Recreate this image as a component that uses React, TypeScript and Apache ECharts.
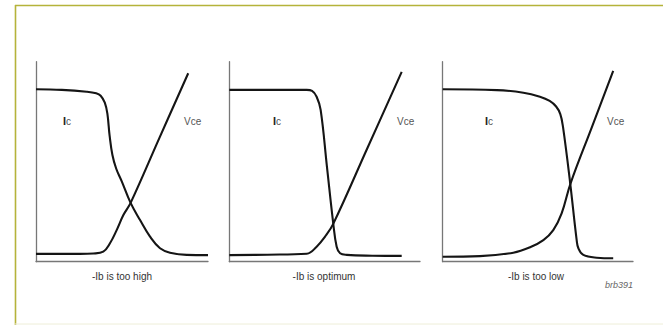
import React, { useEffect, useRef } from "react";
import * as echarts from "echarts";

// Panel captions
const captions = ["-Ib is too high", "-Ib is optimum", "-Ib is too low"];
const curveNames = ["Ic", "Vce"];
const figureId = "brb391";

// Panel 1: -Ib too high  ([x, y] in 0..100 units of each panel)
const icHigh: number[][] = [
  [0, 86.2], [15, 85.9], [29.5, 85], [35, 84.2], [37.6, 83], [40, 79.5], [41.5, 74],
  [42.8, 63], [44.4, 53.5], [46.6, 46.6], [49.8, 40.3], [55, 29.4], [60.5, 20.8],
  [66.3, 12.5], [72.1, 6.7], [77.9, 4.5], [87.6, 3.4], [100, 3.3],
];
const vceHigh: number[][] = [
  [0, 3.9], [25.6, 3.9], [33.3, 4.1], [39.1, 5], [43, 9.2], [46.9, 15.8], [50.8, 23.3],
  [55, 29.4], [71.7, 61.8], [88.5, 94.2],
];

// Panel 2: -Ib optimum
const icOpt: number[][] = [
  [0, 85.9], [20, 85.9], [40.6, 85.9], [43.4, 85.4], [45.8, 82.5], [47.9, 75.9],
  [51.2, 47.5], [54.5, 19.2], [56.3, 7.5], [58.1, 4.2], [61.6, 3.4], [75, 3], [90.4, 2.9],
];
const vceOpt: number[][] = [
  [0, 3.3], [20, 3.5], [40.6, 4], [45.8, 7.5], [50.2, 12.5], [54.5, 18.9], [72.5, 57],
  [90.4, 94.9],
];

// Panel 3: -Ib too low
const icLow: number[][] = [
  [0, 86.2], [28.4, 85.8], [42.4, 84.5], [51.1, 82.5], [56.2, 80.4], [59.6, 77.6],
  [61.8, 73.8], [63.2, 67.5], [67, 39.2], [70.4, 10.8], [71.3, 6.7], [73.9, 3.4],
  [80.9, 2], [89.6, 1.7],
];
const vceLow: number[][] = [
  [0, 2.5], [19.6, 2.8], [37.1, 4.5], [45.9, 7.2], [52.9, 10.8], [58.1, 15.8],
  [62.5, 24.2], [67.2, 39.2], [78.4, 67.3], [89.6, 95.4],
];

const panelData = [
  [icHigh, vceHigh],
  [icOpt, vceOpt],
  [icLow, vceLow],
];

const grids = [
  { left: 36, top: 61.7, width: 172, height: 200 },
  { left: 229.3, top: 61.7, width: 190.7, height: 200 },
  { left: 442.7, top: 61.7, width: 190.3, height: 200 },
];
const icLabelX = [63, 273, 485];
const vceLabelX = [184, 397, 607];
const captionX = [122, 324, 536];

export default function App() {
  const ref = useRef<HTMLDivElement>(null);
  useEffect(() => {
    if (!ref.current) return;
    const chart = echarts.init(ref.current, null, { renderer: "svg" });
    const axisLine = { show: true, lineStyle: { color: "#777", width: 1.3 } };
    const xAxis = grids.map((_, i) => ({
      type: "value", gridIndex: i, min: 0, max: 100,
      axisLine, axisTick: { show: false }, axisLabel: { show: false }, splitLine: { show: false },
    }));
    const yAxis = grids.map((_, i) => ({
      type: "value", gridIndex: i, min: 0, max: 100,
      axisLine, axisTick: { show: false }, axisLabel: { show: false }, splitLine: { show: false },
    }));
    const series: any[] = [];
    panelData.forEach((pair, i) => {
      pair.forEach((d, j) => {
        series.push({
          type: "line", name: curveNames[j], xAxisIndex: i, yAxisIndex: i, data: d,
          showSymbol: false, smooth: 0.4, silent: true,
          lineStyle: { color: "#151515", width: 2.1 },
        });
      });
    });
    const graphic: any[] = [
      { type: "line", shape: { x1: 15, y1: 5.5, x2: 663, y2: 5.5 }, style: { stroke: "#b5b33a", lineWidth: 1.6 } },
      { type: "line", shape: { x1: 15.5, y1: 5, x2: 15.5, y2: 325 }, style: { stroke: "#b5b33a", lineWidth: 1.6 } },
      { type: "line", shape: { x1: 15, y1: 324, x2: 663, y2: 324 }, style: { stroke: "#eeeed8", lineWidth: 1 } },
    ];
    grids.forEach((_, i) => {
      graphic.push({
        type: "text", x: icLabelX[i], y: 121,
        style: {
          text: "{i|I}{c|c}", verticalAlign: "middle",
          rich: {
            i: { fontFamily: "Liberation Sans, Arial, sans-serif", fontSize: 11, fontWeight: "bold", fill: "#222" },
            c: { fontFamily: "Liberation Sans, Arial, sans-serif", fontSize: 10, fill: "#555" },
          },
        },
      });
      graphic.push({
        type: "text", x: vceLabelX[i], y: 121,
        style: { text: curveNames[1], verticalAlign: "middle", fontFamily: "Liberation Sans, Arial, sans-serif", fontSize: 10, fill: "#555" },
      });
      graphic.push({
        type: "text", x: captionX[i], y: 276,
        style: { text: captions[i], align: "center", verticalAlign: "middle", fontFamily: "Liberation Sans, Arial, sans-serif", fontSize: 10, fill: "#333" },
      });
    });
    graphic.push({
      type: "text", x: 633, y: 285,
      style: { text: figureId, align: "right", verticalAlign: "middle", fontFamily: "Liberation Sans, Arial, sans-serif", fontSize: 9, fontStyle: "italic", fill: "#666" },
    });
    chart.setOption({
      animation: false,
      backgroundColor: "#fff",
      grid: grids,
      xAxis, yAxis, series, graphic,
    } as any);
    return () => chart.dispose();
  }, []);
  return <div ref={ref} style={{ position: "fixed", left: 0, top: 0, width: 663, height: 325 }} />;
}
